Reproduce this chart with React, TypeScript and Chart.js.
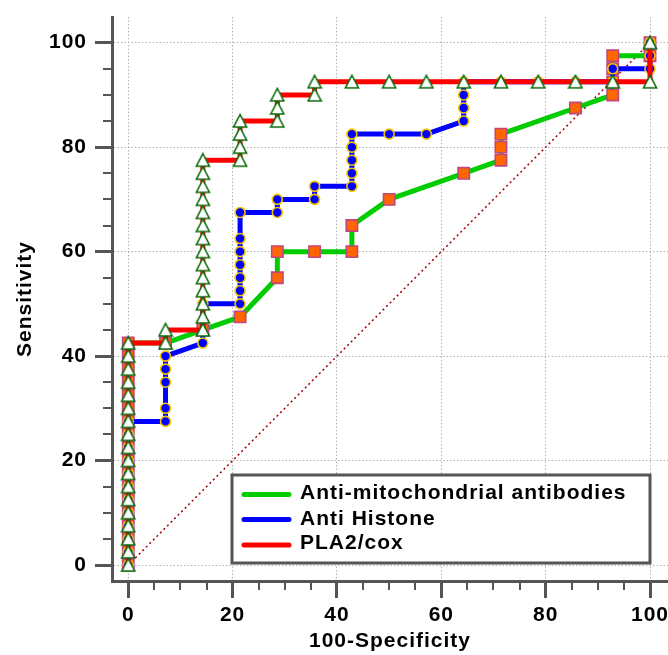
import React, { useEffect, useRef } from 'react';
import { Chart, registerables } from 'chart.js';

Chart.register(...registerables);

// ---- Data (x = 100-Specificity, y = Sensitivity) ----
const seriesLabels = ['Anti-mitochondrial antibodies', 'Anti Histone', 'PLA2/cox'];

const amaX = [0, 0, 0, 0, 0, 0, 0, 0, 0, 0, 0, 0, 0, 0, 0, 0, 0, 0,
  7.14, 14.29, 21.43, 28.57, 28.57, 35.71, 42.86, 42.86, 50, 64.29,
  71.43, 71.43, 71.43, 85.71, 92.86, 92.86, 92.86, 92.86, 100, 100];
const amaY = [0, 2.5, 5, 7.5, 10, 12.5, 15, 17.5, 20, 22.5, 25, 27.5, 30, 32.5, 35, 37.5, 40, 42.5,
  42.5, 45, 47.5, 55, 60, 60, 60, 65, 70, 75,
  77.5, 80, 82.5, 87.5, 90, 92.5, 95, 97.5, 97.5, 100];

const ahX = [0, 0, 0, 0, 0, 0, 0, 0, 0, 0, 0, 0,
  7.14, 7.14, 7.14, 7.14, 7.14, 14.29, 14.29,
  21.43, 21.43, 21.43, 21.43, 21.43, 21.43, 21.43, 28.57, 28.57, 35.71, 35.71,
  42.86, 42.86, 42.86, 42.86, 42.86, 50, 57.14, 64.29, 64.29, 64.29, 64.29,
  71.43, 78.57, 85.71, 92.86, 92.86, 100, 100, 100];
const ahY = [0, 2.5, 5, 7.5, 10, 12.5, 15, 17.5, 20, 22.5, 25, 27.5,
  27.5, 30, 35, 37.5, 40, 42.5, 50,
  50, 52.5, 55, 57.5, 60, 62.5, 67.5, 67.5, 70, 70, 72.5,
  72.5, 75, 77.5, 80, 82.5, 82.5, 82.5, 85, 87.5, 90, 92.5,
  92.5, 92.5, 92.5, 92.5, 95, 95, 97.5, 100];

const plaX = [0, 0, 0, 0, 0, 0, 0, 0, 0, 0, 0, 0, 0, 0, 0, 0, 0, 0,
  7.14, 7.14,
  14.29, 14.29, 14.29, 14.29, 14.29, 14.29, 14.29, 14.29, 14.29, 14.29, 14.29, 14.29, 14.29, 14.29,
  21.43, 21.43, 21.43, 21.43, 28.57, 28.57, 28.57, 35.71, 35.71,
  42.86, 50, 57.14, 64.29, 71.43, 78.57, 85.71, 92.86, 100, 100];
const plaY = [0, 2.5, 5, 7.5, 10, 12.5, 15, 17.5, 20, 22.5, 25, 27.5, 30, 32.5, 35, 37.5, 40, 42.5,
  42.5, 45,
  45, 47.5, 50, 52.5, 55, 57.5, 60, 62.5, 65, 67.5, 70, 72.5, 75, 77.5,
  77.5, 80, 82.5, 85, 85, 87.5, 90, 90, 92.5,
  92.5, 92.5, 92.5, 92.5, 92.5, 92.5, 92.5, 92.5, 92.5, 100];

const refX = [0, 100];
const refY = [0, 100];

const majorTicks = [0, 20, 40, 60, 80, 100];
const minorTicks = [5, 10, 15, 25, 30, 35, 45, 50, 55, 65, 70, 75, 85, 90, 95];
const xTitle = '100-Specificity';
const yTitle = 'Sensitivity';

// ---- Styles ----
const FONT = '"Liberation Sans", Arial, sans-serif';
const AXIS = '#555555';
const GREEN = '#00cc00';
const BLUE = '#0000ff';
const RED = '#ff0000';

const zip = (xs: number[], ys: number[]) => xs.map((x, i) => ({ x, y: ys[i] }));

function makeTriangle(): HTMLCanvasElement {
  const c = document.createElement('canvas');
  c.width = 16;
  c.height = 16;
  const g = c.getContext('2d')!;
  g.beginPath();
  g.moveTo(8, 1.5);
  g.lineTo(14.5, 14);
  g.lineTo(1.5, 14);
  g.closePath();
  g.fillStyle = '#ffffff';
  g.fill();
  g.lineWidth = 1.6;
  g.strokeStyle = '#0b6b0b';
  g.lineJoin = 'miter';
  g.stroke();
  return c;
}

const zeroPadding = (s: any) => {
  s.paddingLeft = 0;
  s.paddingRight = 0;
  s.paddingTop = 0;
  s.paddingBottom = 0;
};

const decorPlugin = {
  id: 'decor',
  beforeUpdate(chart: any) {
    chart.ctx.letterSpacing = '1px';
  },
  beforeDraw(chart: any) {
    const ctx = chart.ctx;
    ctx.letterSpacing = '1px';
    ctx.save();
    ctx.fillStyle = '#ffffff';
    ctx.fillRect(0, 0, chart.width, chart.height);
    ctx.restore();
  },
  beforeDatasetsDraw(chart: any) {
    const { ctx, chartArea, scales } = chart;
    ctx.save();
    ctx.strokeStyle = AXIS;
    ctx.lineWidth = 2;
    ctx.beginPath();
    for (const v of minorTicks) {
      const px = Math.round(scales.x.getPixelForValue(v));
      ctx.moveTo(px, chartArea.bottom);
      ctx.lineTo(px, chartArea.bottom + 9);
      const py = Math.round(scales.y.getPixelForValue(v));
      ctx.moveTo(chartArea.left - 9, py);
      ctx.lineTo(chartArea.left, py);
    }
    ctx.stroke();
    ctx.restore();
  },
  afterDraw(chart: any) {
    const ctx = chart.ctx;
    const left = 232, top = 475, w = 418, h = 88;
    ctx.save();
    ctx.fillStyle = '#ffffff';
    ctx.fillRect(left, top, w, h);
    ctx.strokeStyle = AXIS;
    ctx.lineWidth = 3;
    ctx.strokeRect(left, top, w, h);
    const colors = [GREEN, BLUE, RED];
    const lineYs = [494.5, 519.5, 545];
    const textYs = [498.5, 524.5, 549];
    ctx.letterSpacing = '1px';
    ctx.font = `bold 21px ${FONT}`;
    ctx.textBaseline = 'alphabetic';
    ctx.textAlign = 'left';
    seriesLabels.forEach((label, i) => {
      ctx.strokeStyle = colors[i];
      ctx.lineWidth = 5;
      ctx.lineCap = 'round';
      ctx.beginPath();
      ctx.moveTo(244, lineYs[i]);
      ctx.lineTo(289, lineYs[i]);
      ctx.stroke();
      ctx.fillStyle = '#000000';
      ctx.fillText(label, 300, textYs[i]);
    });
    ctx.restore();
  },
};

export default function App() {
  const ref = useRef<HTMLCanvasElement | null>(null);

  useEffect(() => {
    if (!ref.current) return;
    const tri = makeTriangle();
    const tickFont = { family: FONT, size: 21, weight: 'bold' as const };

    const chart = new Chart(ref.current, {
      type: 'scatter',
      data: {
        datasets: [
          {
            label: seriesLabels[2],
            data: zip(plaX, plaY),
            showLine: true,
            borderColor: RED,
            borderWidth: 5,
            borderJoinStyle: 'round',
            tension: 0,
            pointStyle: tri,
            pointRadius: 7,
            backgroundColor: '#ffffff',
          },
          {
            label: seriesLabels[1],
            data: zip(ahX, ahY),
            showLine: true,
            borderColor: BLUE,
            borderWidth: 5,
            borderJoinStyle: 'round',
            tension: 0,
            pointStyle: 'circle',
            pointRadius: 5,
            pointBackgroundColor: BLUE,
            pointBorderColor: '#f5c400',
            pointBorderWidth: 1.6,
          },
          {
            label: seriesLabels[0],
            data: zip(amaX, amaY),
            showLine: true,
            borderColor: GREEN,
            borderWidth: 5,
            borderJoinStyle: 'round',
            tension: 0,
            pointStyle: 'rect',
            pointRadius: 8,
            pointBackgroundColor: '#ff6600',
            pointBorderColor: '#c0467e',
            pointBorderWidth: 1.6,
          },
          {
            label: 'reference',
            data: zip(refX, refY),
            showLine: true,
            borderColor: '#a00000',
            borderWidth: 1.5,
            borderDash: [2, 3],
            pointRadius: 0,
          },
        ],
      } as any,
      options: {
        responsive: false,
        animation: false,
        devicePixelRatio: 1,
        events: [],
        layout: { padding: { top: 17, left: 0, right: 0, bottom: 0 }, autoPadding: false },
        plugins: {
          legend: { display: false },
          tooltip: { enabled: false },
        },
        scales: {
          x: {
            type: 'linear',
            min: -3.12,
            max: 103.45,
            afterBuildTicks: (s: any) => {
              s.ticks = majorTicks.map((v) => ({ value: v }));
            },
            afterFit: (s: any) => {
              s.height = 74;
              zeroPadding(s);
            },
            grid: {
              color: '#b4b4b4',
              lineWidth: 1,
              drawTicks: true,
              tickLength: 17,
              tickWidth: 3,
              tickColor: AXIS,
            },
            border: { display: true, color: AXIS, width: 3, dash: [1.5, 2] },
            ticks: {
              color: '#000000',
              font: tickFont,
              padding: 5,
              maxRotation: 0,
              autoSkip: false,
            },
            title: {
              display: true,
              text: xTitle,
              color: '#000000',
              font: { ...tickFont, lineHeight: 1 },
              padding: { top: 0, bottom: 3 },
            },
          },
          y: {
            type: 'linear',
            min: -3.06,
            max: 104.92,
            afterBuildTicks: (s: any) => {
              s.ticks = majorTicks.map((v) => ({ value: v }));
            },
            afterFit: (s: any) => {
              s.width = 112;
              zeroPadding(s);
            },
            grid: {
              color: '#b4b4b4',
              lineWidth: 1,
              drawTicks: true,
              tickLength: 17,
              tickWidth: 3,
              tickColor: AXIS,
            },
            border: { display: true, color: AXIS, width: 3, dash: [1.5, 2] },
            ticks: {
              color: '#000000',
              font: tickFont,
              padding: 8,
              autoSkip: false,
            },
            title: {
              display: true,
              text: yTitle,
              color: '#000000',
              font: tickFont,
              padding: { top: 13, bottom: 0 },
            },
          },
        },
      } as any,
      plugins: [decorPlugin],
    });

    return () => chart.destroy();
  }, []);

  return (
    <div style={{ position: 'absolute', left: 0, top: 0, width: 668, height: 655 }}>
      <canvas ref={ref} width={668} height={655} style={{ display: 'block' }} />
    </div>
  );
}
